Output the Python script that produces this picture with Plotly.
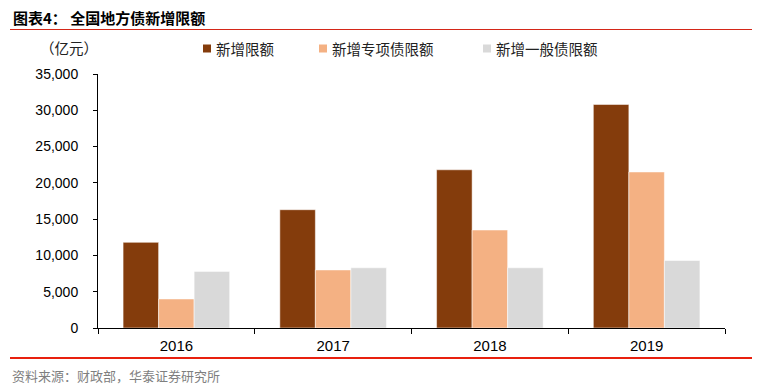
import plotly.graph_objects as go

years = ["2016", "2017", "2018", "2019"]
new_limit = [11800, 16300, 21800, 30800]
special_limit = [4000, 8000, 13500, 21500]
general_limit = [7800, 8300, 8300, 9300]
series_names = ["新增限额", "新增专项债限额", "新增一般债限额"]
colors = ["#843C0C", "#F4B183", "#D9D9D9"]
y_ticks = [0, 5000, 10000, 15000, 20000, 25000, 30000, 35000]

OFF = 8  # default body margin of the html page
W, H = 752, 382
L, R, T, B = 90, 35, 66, 62
PW = W - L - R
PH = H - T - B

def px(sx):
    return (sx - OFF - L) / PW

def py(sy):
    return (H - B - (sy - OFF)) / PH

cjk = "Noto Sans CJK SC"
lat = "Liberation Sans, Arial"

fig = go.Figure()
for vals, name, col in zip([new_limit, special_limit, general_limit], series_names, colors):
    fig.add_trace(go.Bar(x=years, y=vals, name=name, showlegend=False,
                         marker=dict(color=col, line=dict(color="rgba(255,255,255,0.5)", width=1))))

annotations = [
    dict(text="<b>图表4： 全国地方债新增限额</b>", xref="paper", yref="paper",
         x=px(11), y=py(17.5), xanchor="left", yanchor="middle", showarrow=False,
         font=dict(family=cjk, size=15, color="black")),
    dict(text="（亿元）", xref="paper", yref="paper",
         x=px(38), y=py(48), xanchor="left", yanchor="middle", showarrow=False,
         font=dict(family=cjk, size=14.5, color="#222")),
    dict(text="资料来源：财政部，华泰证券研究所", xref="paper", yref="paper",
         x=px(10), y=py(375.5), xanchor="left", yanchor="middle", showarrow=False,
         font=dict(family=cjk, size=13, color="#7F7F7F")),
]
shapes = [
    dict(type="line", xref="paper", yref="paper", x0=px(10), x1=px(753),
         y0=py(29.5), y1=py(29.5), line=dict(color="#D42718", width=1.2)),
    dict(type="line", xref="paper", yref="paper", x0=px(10), x1=px(753),
         y0=py(358), y1=py(358), line=dict(color="#E8200E", width=2)),
]
sq_x = [203, 319, 483]
for sx, name, col in zip(sq_x, series_names, colors):
    shapes.append(dict(type="rect", xref="paper", yref="paper",
                       x0=px(sx), x1=px(sx + 8), y0=py(44.5), y1=py(52.5),
                       fillcolor=col, line=dict(width=0)))
    annotations.append(dict(text=name, xref="paper", yref="paper",
                            x=px(sx + 11), y=py(48.5), xanchor="left", yanchor="middle",
                            showarrow=False, font=dict(family=cjk, size=14.5, color="#222")))

fig.update_layout(
    width=W, height=H,
    margin=dict(l=L, r=R, t=T, b=B),
    paper_bgcolor="white", plot_bgcolor="white",
    barmode="group", bargap=0.32, bargroupgap=0,
    showlegend=False,
    xaxis=dict(showline=True, linecolor="black", linewidth=1, ticks="outside",
               ticklen=5, tickcolor="black", tickson="boundaries",
               ticklabelstandoff=4,
               tickfont=dict(family=lat, size=15, color="black"), showgrid=False),
    yaxis=dict(range=[0, 35000], tickvals=y_ticks, tickformat=",", showgrid=False,
               showline=True, linecolor="black", linewidth=1, zeroline=False,
               ticks="outside", ticklen=4, tickcolor="black", ticklabelstandoff=12,
               tickfont=dict(family=lat, size=14, color="black")),
    annotations=annotations,
    shapes=shapes,
)

fig.write_html("out.html")
